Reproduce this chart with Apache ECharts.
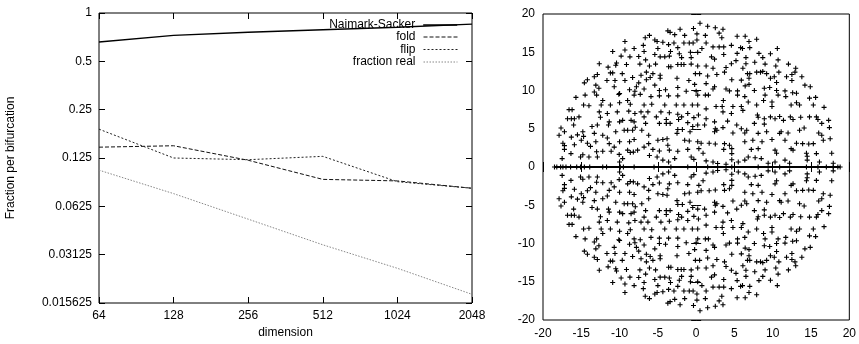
<!DOCTYPE html>
<html>
<head>
<meta charset="utf-8">
<script src="https://cdn.jsdelivr.net/npm/echarts@6/dist/echarts.min.js"></script>
<style>
  html, body { margin: 0; padding: 0; background: #fff; }
  #chart { width: 859px; height: 344px; }
</style>
</head>
<body>
<div id="chart"></div>
<script>
// Left panel: fraction of eigenvalue crossings per bifurcation type vs. dimension
const dims = [64, 128, 256, 512, 1024, 2048];
const naimarkSacker = [0.66, 0.726, 0.758, 0.786, 0.815, 0.853];
const fold = [0.146, 0.149, 0.121, 0.092, 0.090, 0.081];
const flip = [0.189, 0.125, 0.122, 0.128, 0.089, 0.081];
const fractionReal = [0.105, 0.075, 0.052, 0.036, 0.0257, 0.0177];
const dimTicks = [64, 128, 256, 512, 1024, 2048];
const fracTicks = [0.015625, 0.03125, 0.0625, 0.125, 0.25, 0.5, 1];

// Right panel: spectrum in the complex plane.
// Upper half-plane eigenvalues [re, im]; the lower half holds their conjugates.
const upperEigs = [
  [-9.3,16.4],[-6.65,16.9],[-10.9,15.1],[-9.3,15.3],[-8.1,15.5],[-6.9,15.9],[-9.8,14.5],[-8.65,14.4],[-7.5,14.45],[-6.8,15.1],
  [-12.65,13.5],[-10.4,13.6],[-10.5,13.3],[-9.1,13.4],[-7.35,13.45],[-6.6,14.0],[-11.5,13.05],[-11.2,12.3],[-10.9,12.3],[-9.65,12.2],
  [-8.3,11.7],[-7.2,12.0],[-6.5,11.4],[-12.9,12.1],[-13.3,11.8],[-14.2,11.4],[-14.6,11.0],[-11.65,11.3],[-10.6,11.3],[-9.3,11.3],
  [-7.5,11.0],[-13.1,10.7],[-12.7,10.3],[-10.7,10.5],[-7.8,10.5],[-10.0,9.6],[-8.7,10.1],[-8.0,9.9],[-6.8,10.2],[-13.3,9.8],
  [0.5,18.8],[1.5,18.4],[2.5,18.2],[3.5,18.0],[-0.35,18.1],[-2.1,18.0],[-3.7,17.8],[-3.4,17.6],[-2.8,17.3],[-1.5,17.2],
  [0.1,17.4],[1.2,17.2],[3.0,17.5],[3.35,16.9],[5.35,17.1],[-6.1,17.2],[-5.4,16.6],[-5.1,16.4],[-4.35,16.3],[-3.6,16.0],
  [-2.9,16.2],[-5.0,15.5],[-2.4,15.6],[-1.6,16.2],[-0.9,16.2],[-0.4,16.2],[0.1,16.6],[0.75,15.5],[1.3,16.2],[2.2,15.7],
  [3.0,15.7],[3.6,15.7],[4.6,15.9],[5.8,15.6],[-5.4,14.7],[-4.7,14.4],[-4.1,14.4],[-3.5,14.5],[-3.35,15.1],[-2.2,14.8],
  [-1.9,14.3],[-0.75,15.0],[-0.65,14.3],[0.2,15.0],[2.0,14.4],[2.4,14.1],[3.6,14.7],[5.35,14.85],[-6.1,13.2],[-5.3,13.45],
  [-3.6,13.1],[-3.3,13.1],[-2.4,13.4],[-1.95,13.4],[-1.6,13.4],[-0.65,13.45],[0.2,13.2],[1.3,13.2],[2.2,12.9],[3.9,13.0],
  [4.6,13.5],[5.2,13.9],[-6.5,12.4],[-5.65,12.2],[-4.7,12.0],[-4.7,11.6],[-2.5,11.6],[-0.95,11.3],[-0.1,12.2],[0.45,12.2],
  [1.5,11.9],[2.7,12.1],[3.7,12.4],[-6.0,11.7],[-5.4,10.7],[-0.2,10.8],[1.3,10.9],[2.4,10.5],[2.2,10.2],[3.9,10.2],
  [4.65,11.4],[5.9,11.35],[-4.8,10.0],[-4.0,10.1],[-2.4,10.4],[-1.3,9.9],[0,9.9],[4.35,9.95],[5.4,9.95],
  [6.4,17.1],[6.9,16.4],[7.9,16.7],[6.05,15.5],[7.0,15.6],[10.6,15.5],[6.5,14.3],[6.5,13.5],[8.2,14.85],[8.7,14.3],
  [9.7,14.8],[10.7,14.0],[7.65,13.7],[9.0,13.45],[10.4,13.2],[12.05,13.45],[13.0,12.9],[6.1,12.9],[6.7,12.2],[7.0,12.2],
  [7.9,12.4],[8.4,12.4],[8.7,12.5],[9.2,12.2],[10.8,12.4],[9.7,11.6],[10.2,11.8],[12.5,12.1],[12.9,12.4],[11.8,11.8],
  [13.8,11.8],[6.9,11.6],[12.5,11.3],[10.5,11.05],[6.4,10.6],[6.9,10.8],[14.2,10.7],[14.9,10.5],[7.6,10.0],[8.9,10.3],
  [9.6,10.4],[10.5,10.0],[11.6,9.95],[12.6,9.7],[13.1,9.65],
  [-15.7,9.1],[-14.5,9.4],[-13.0,9.4],[-12.2,8.7],[-10.1,9.5],[-8.1,9.4],[-7.3,9.5],[-14.7,8.1],[-14.0,8.0],[-12.4,8.1],
  [-11.2,8.1],[-10.0,8.4],[-8.95,8.7],[-8.6,8.2],[-6.8,8.1],[-16.6,7.5],[-16.2,7.5],[-12.65,7.2],[-11.6,7.0],[-10.3,7.2],
  [-8.8,7.3],[-8.0,7.0],[-7.2,7.2],[-16.8,6.3],[-16.3,6.3],[-15.9,6.3],[-15.3,6.55],[-12.5,6.5],[-11.35,5.9],[-11.45,5.5],
  [-12.9,5.5],[-13.6,5.3],[-16.0,5.5],[-10.0,5.9],[-9.6,6.1],[-8.5,6.1],[-8.1,5.9],[-6.8,6.55],[-6.6,5.7],[-17.65,5.1],
  [-17.9,4.15],[-17.2,4.6],[-16.3,3.9],[-15.5,4.2],[-14.8,4.6],[-14.7,4.0],[-13.3,4.4],[-12.2,4.15],[-11.6,3.8],[-10.5,4.6],
  [-9.4,4.8],[-8.95,4.8],[-8.3,4.8],[-7.95,5.2],[-7.1,4.8],[-17.4,3.1],[-17.2,2.8],[-15.9,2.9],[-15.0,3.5],[-14.2,3.1],
  [-13.8,2.7],[-13.1,3.3],[-11.35,3.05],[-10.7,2.6],[-10.0,3.3],[-8.7,3.3],[-8.1,3.6],[-17.2,2.3],[-16.35,1.75],[-15.1,1.3],
  [-14.8,1.6],[-14.0,1.3],[-13.0,2.0],[-12.9,1.3],[-12.2,2.05],[-11.1,2.05],[-10.05,1.65],[-8.95,2.2],[-8.6,1.9],[-8.2,1.95],
  [-7.65,2.2],[-6.8,2.6],[-17.5,1.1],[-10.0,0.65],[-9.6,1.1],
  [-5.9,9.2],[-4.8,9.3],[-3.6,9.3],[-2.4,9.3],[0.2,9.4],[1.2,9.4],[1.6,9.4],[3.55,8.7],[5.4,9.4],[-5.8,8.2],
  [-4.1,8.1],[-2.6,8.1],[-1.6,8.1],[-0.5,8.1],[0.2,8.1],[1.3,7.6],[2.6,7.9],[3.4,7.9],[4.8,7.9],[5.9,7.9],
  [-6.3,7.2],[-4.6,7.2],[-3.5,7.1],[-2.4,6.9],[-1.1,7.0],[0.3,6.8],[3.5,7.2],[4.6,7.0],[-5.2,6.55],[-3.9,6.2],
  [-2.3,6.2],[-1.9,6.55],[-0.3,6.45],[1.3,6.3],[2.4,5.9],[4.1,6.0],[-4.8,5.7],[-3.9,5.7],[-3.4,5.7],[-1.1,5.8],
  [-0.45,5.3],[0.2,5.5],[1.1,5.5],[2.5,5.0],[3.5,5.15],[5.3,5.5],[5.9,5.0],[-2.4,4.9],[-1.8,4.9],[-0.8,4.6],
  [2.4,4.6],[2.7,4.8],[4.8,4.45],[-6.2,4.15],[-5.0,3.5],[-4.35,3.6],[-3.8,3.7],[-2.5,4.4],[-1.5,3.5],[-0.9,3.4],
  [0.2,3.3],[0.65,3.1],[1.7,3.1],[2.5,3.0],[3.7,3.05],[4.35,2.85],[-6.2,3.05],[-5.65,2.3],[-4.8,2.1],[-3.7,2.85],
  [-3.5,2.2],[-2.4,2.05],[-1.1,2.3],[0.35,2.4],[0.9,1.8],[3.6,2.3],[4.65,1.75],[4.65,2.4],[-6.1,1.5],[-5.1,1.3],
  [-4.35,0.9],[-3.6,0.65],[-2.8,1.1],[-0.65,1.3],[-0.3,1.0],[1.3,0.8],[2.2,0.65],[2.8,0.45],[3.9,0.35],[4.65,0.95],
  [5.5,0.65],
  [6.35,9.2],[6.8,8.5],[7.9,8.1],[8.8,8.7],[9.0,9.4],[9.9,8.5],[9.9,7.9],[10.7,9.4],[11.7,9.2],[12.4,8.1],
  [13.1,8.4],[13.5,8.1],[14.8,9.0],[15.3,8.1],[15.6,9.1],[16.7,7.8],[6.1,7.4],[8.0,6.8],[8.1,6.5],[8.9,6.3],
  [9.7,6.55],[10.3,6.3],[10.9,6.6],[11.4,6.1],[12.3,6.55],[12.65,6.2],[13.65,6.5],[14.8,6.55],[15.7,6.55],[15.9,6.2],
  [17.3,6.1],[7.6,5.7],[8.9,5.6],[14.1,5.1],[16.4,5.7],[17.4,5.15],[6.6,4.8],[6.35,4.45],[8.1,4.4],[9.2,4.6],
  [10.9,4.4],[11.1,4.6],[12.0,4.45],[13.5,4.8],[16.0,4.45],[16.4,4.15],[6.35,3.3],[7.4,3.5],[8.6,3.3],[9.9,3.6],
  [11.6,3.5],[13.1,3.1],[13.9,3.05],[14.7,3.0],[15.3,3.05],[16.6,3.5],[17.5,3.7],[7.2,2.3],[8.1,2.4],[10.3,2.2],
  [10.5,1.8],[12.4,2.4],[12.65,2.2],[14.4,1.8],[14.5,1.4],[15.7,1.75],[17.7,1.8],[6.35,0.9],[6.8,1.3],[7.7,1.2],
  [8.5,1.1],[9.4,0.5],[10.3,0.65],[11.6,0.9],[12.2,0.5],[14.5,0.9],[16.1,0.65],[17.9,0.5]
];
// Eigenvalues lying on the real axis
const realEigs = [-18.5,-18.2,-17.7,-17.4,-17.0,-16.4,-15.6,-15.1,-14.6,-13.9,-12.2,-11.7,-9.9,-9.5,-8.1,
  -5.5,-3.3,-1.1,1.5,4.65,8.1,10.9,14.4,15.9,17.0,17.9,18.5,18.8];
const planeTicks = [-20, -15, -10, -5, 0, 5, 10, 15, 20];

const FONT = 'Liberation Sans';
// thin "+" marker
const plusSymbol = 'path://M-0.55,-2.5H0.55V-0.55H2.5V0.55H0.55V2.5H-0.55V0.55H-2.5V-0.55H-0.55Z';

const complexPts = upperEigs.concat(upperEigs.map(p => [p[0], -p[1]]));
const realPts = realEigs.slice().sort((a, b) => a - b).map(v => [v, 0]);

function zip(xs, ys) { return xs.map((x, i) => [x, ys[i]]); }

const tickStyle = { show: true, inside: true, length: 6, lineStyle: { color: '#000', width: 1 } };
const labelStyle = { color: '#000', fontFamily: FONT, fontSize: 12 };

function logX(gridIndex, top) {
  return {
    type: 'log', logBase: 2, gridIndex, min: dimTicks[0], max: dimTicks[dimTicks.length - 1], splitNumber: 5,
    position: top ? 'top' : 'bottom',
    axisLine: { show: false }, axisTick: tickStyle, splitLine: { show: false },
    axisLabel: top ? { show: false } : Object.assign({ margin: 7, formatter: v => String(Math.round(v)) }, labelStyle),
    name: top ? '' : 'dimension', nameLocation: 'middle', nameGap: 24,
    nameTextStyle: { color: '#000', fontFamily: FONT, fontSize: 12 }
  };
}
function logY(gridIndex, right) {
  return {
    type: 'log', logBase: 2, gridIndex, min: fracTicks[0], max: fracTicks[fracTicks.length - 1], splitNumber: 6,
    position: right ? 'right' : 'left',
    axisLine: { show: false }, axisTick: tickStyle, splitLine: { show: false },
    axisLabel: right ? { show: false } : Object.assign({ margin: 7, formatter: v => String(+(+v).toPrecision(6)) }, labelStyle),
    name: right ? '' : 'Fraction per bifurcation', nameLocation: 'middle', nameGap: 82,
    nameTextStyle: { color: '#000', fontFamily: FONT, fontSize: 12 }
  };
}
function planeAxis(gridIndex, pos) {
  const hidden = pos === 'top' || pos === 'right';
  return {
    type: 'value', gridIndex, min: planeTicks[0], max: planeTicks[planeTicks.length - 1], interval: 5,
    position: pos,
    axisLine: { show: false }, axisTick: Object.assign({}, tickStyle, { length: 5 }), splitLine: { show: false },
    axisLabel: hidden ? { show: false } : Object.assign({ margin: 8 }, labelStyle)
  };
}

// one legend box per entry, all right-anchored so samples line up and text is right-aligned
function legendFor(name, top, lineWidth) {
  return {
    data: [name], right: 401, top, orient: 'vertical', align: 'right',
    itemWidth: 34, itemHeight: 10, itemGap: 0, padding: 0,
    itemStyle: { color: 'rgba(0,0,0,0)', borderWidth: 0, opacity: 0 },
    lineStyle: { width: lineWidth },
    textStyle: { color: '#000', fontFamily: FONT, fontSize: 12, padding: [0, 3, 0, 0] }
  };
}

const option = {
  animation: false,
  backgroundColor: '#fff',
  textStyle: { fontFamily: FONT },
  grid: [
    { left: 99, top: 13, width: 373, height: 295, show: true, borderColor: '#000', borderWidth: 1, backgroundColor: 'transparent' },
    { left: 543, top: 14, width: 307, height: 306, show: true, borderColor: '#000', borderWidth: 1, backgroundColor: 'transparent' }
  ],
  legend: [
    legendFor('Naimark-Sacker', 19, 1.6),
    legendFor('fold', 31, 1),
    legendFor('flip', 43.5, 1),
    legendFor('fraction real', 56, 1)
  ],
  xAxis: [logX(0, false), logX(0, true), planeAxis(1, 'bottom'), planeAxis(1, 'top')],
  yAxis: [logY(0, false), logY(0, true), planeAxis(1, 'left'), planeAxis(1, 'right')],
  series: [
    { name: 'Naimark-Sacker', type: 'line', xAxisIndex: 0, yAxisIndex: 0, data: zip(dims, naimarkSacker),
      symbol: 'none', color: '#000', lineStyle: { color: '#000', width: 1.4 } },
    { name: 'fold', type: 'line', xAxisIndex: 0, yAxisIndex: 0, data: zip(dims, fold),
      symbol: 'none', color: '#000', lineStyle: { color: '#111', width: 1, type: [4, 2] } },
    { name: 'flip', type: 'line', xAxisIndex: 0, yAxisIndex: 0, data: zip(dims, flip),
      symbol: 'none', color: '#000', lineStyle: { color: '#222', width: 1, type: [2, 2] } },
    { name: 'fraction real', type: 'line', xAxisIndex: 0, yAxisIndex: 0, data: zip(dims, fractionReal),
      symbol: 'none', color: '#888', lineStyle: { color: '#888', width: 1, type: [1.5, 1.5] } },
    { name: 'real eigenvalues', type: 'line', xAxisIndex: 2, yAxisIndex: 2, data: realPts,
      symbol: plusSymbol, symbolSize: 5, showSymbol: true, color: '#000',
      itemStyle: { color: '#000' }, lineStyle: { color: '#000', width: 2 } },
    { name: 'eigenvalues', type: 'scatter', xAxisIndex: 2, yAxisIndex: 2, data: complexPts,
      symbol: plusSymbol, symbolSize: 5, itemStyle: { color: '#000', opacity: 1 } }
  ]
};

const chart = echarts.init(document.getElementById('chart'), null, { renderer: 'canvas' });
chart.setOption(option);
</script>
</body>
</html>
